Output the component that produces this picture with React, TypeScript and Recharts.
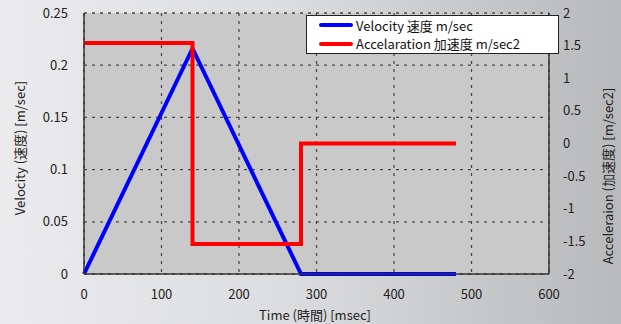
import React from 'react';
import { LineChart, Line, XAxis, YAxis, CartesianGrid } from 'recharts';

const velTime = [0, 140, 280, 480];
const velValue = [0, 0.216, 0, 0];
const accTime = [0, 140, 140, 280, 280, 480];
const accValue = [1.54, 1.54, -1.54, -1.54, 0, 0];

const xTicks = [0, 100, 200, 300, 400, 500, 600];
const leftTicks = [0, 0.05, 0.1, 0.15, 0.2, 0.25];
const rightTicks = [-2, -1.5, -1, -0.5, 0, 0.5, 1, 1.5, 2];

const velData = velTime.map((t, i) => ({ t, v: velValue[i] }));
const accData = accTime.map((t, i) => ({ t, a: accValue[i] }));

const FONT = '"Noto Sans CJK JP", "Liberation Sans", sans-serif';
const tickStyle = { fontSize: 13, fill: '#222', fontFamily: FONT };

const LegendBox = () => (
  <div style={{ position: 'absolute', left: 306, top: 15, background: '#fff', border: '1px solid #222', width: 253, height: 39, boxSizing: 'border-box', fontFamily: FONT, fontSize: 13, color: '#111', padding: '0 0 0 12px' }}>
    <div style={{ display: 'flex', alignItems: 'center', height: 18, marginTop: 0 }}>
      <span style={{ display: 'inline-block', width: 34, height: 4, background: '#0000ff', marginRight: 3, borderRadius: 2 }} />
      <span>Velocity 速度 m/sec</span>
    </div>
    <div style={{ display: 'flex', alignItems: 'center', height: 19 }}>
      <span style={{ display: 'inline-block', width: 34, height: 4, background: '#ff0000', marginRight: 3, borderRadius: 2 }} />
      <span>Accelaration 加速度 m/sec2</span>
    </div>
  </div>
);

export default function App() {
  return (
    <div style={{ position: 'fixed', left: 0, top: 0, width: 621, height: 324, background: 'linear-gradient(to right, #ebebed 0%, #dcdddf 45%, #b8b9bb 100%)', fontFamily: FONT }}>
      <LineChart width={621} height={324} margin={{ top: 13, right: 22, bottom: 20, left: 24 }}>
        <CartesianGrid fill="#c9c9c9" stroke="#4a4a4a" strokeDasharray="3 5" strokeWidth={1.3} yAxisId="left" />
        <XAxis dataKey="t" type="number" domain={[0, 600]} ticks={xTicks} allowDuplicatedCategory={false}
          tick={tickStyle} tickLine={false} axisLine={{ stroke: '#333', strokeWidth: 1.5 }} tickMargin={10} height={30} />
        <YAxis yAxisId="left" domain={[0, 0.25]} ticks={leftTicks} tick={tickStyle} tickLine={false}
          axisLine={{ stroke: '#333', strokeWidth: 1.5 }} tickMargin={10} width={60} />
        <YAxis yAxisId="right" orientation="right" domain={[-2, 2]} ticks={rightTicks} tick={tickStyle} tickLine={false}
          axisLine={{ stroke: '#333', strokeWidth: 1.5 }} tickMargin={8} width={50} />
        <Line yAxisId="left" data={velData} dataKey="v" stroke="#0000ff" strokeWidth={4} dot={false} isAnimationActive={false} type="linear" />
        <Line yAxisId="right" data={accData} dataKey="a" stroke="#ff0000" strokeWidth={4} dot={false} isAnimationActive={false} type="linear" />
      </LineChart>
      <LegendBox />
      <div style={{ position: 'absolute', left: 19, top: 148, transform: 'translate(-50%, -50%) rotate(-90deg)', whiteSpace: 'nowrap', fontSize: 13, color: '#222' }}>Velocity (速度) [m/sec]</div>
      <div style={{ position: 'absolute', left: 607, top: 176, transform: 'translate(-50%, -50%) rotate(-90deg)', whiteSpace: 'nowrap', fontSize: 13, color: '#222' }}>Acceleraion (加速度) [m/sec2]</div>
      <div style={{ position: 'absolute', left: 315, top: 314, transform: 'translate(-50%, -50%)', whiteSpace: 'nowrap', fontSize: 13, color: '#222' }}>Time (時間) [msec]</div>
    </div>
  );
}
